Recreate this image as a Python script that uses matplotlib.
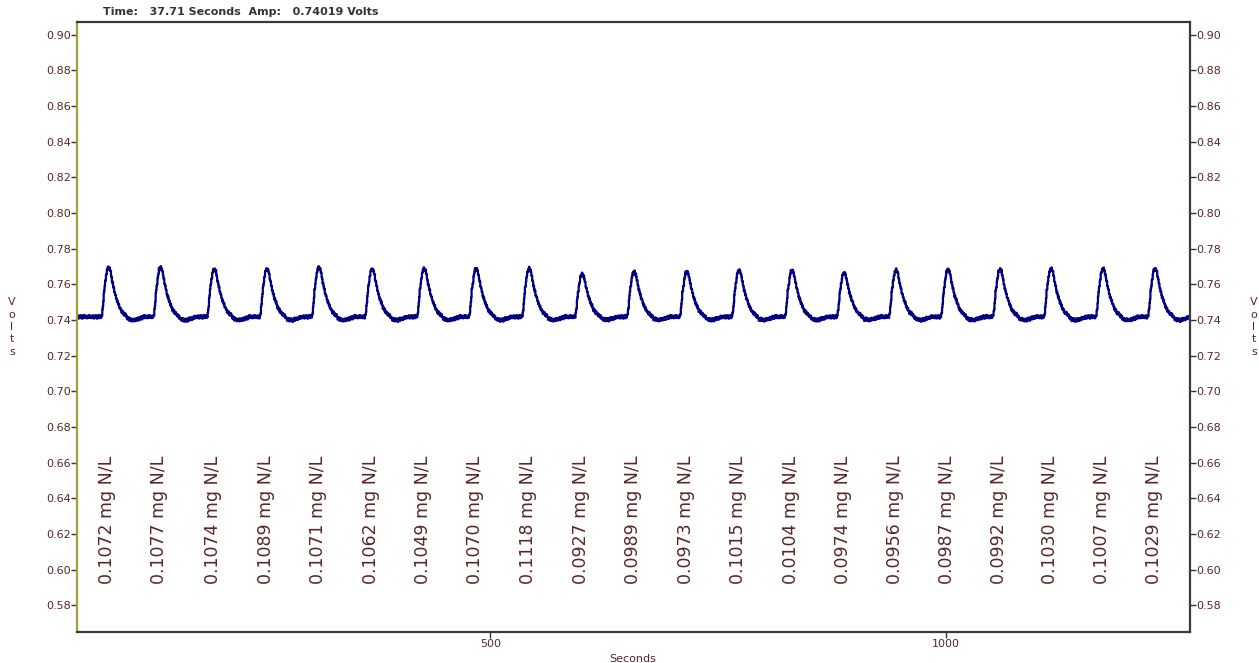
import numpy as np
import matplotlib
matplotlib.use("Agg")
import matplotlib.pyplot as plt

# Peak apex times (s) and apex amplitudes (V) of the injections
peak_times = [81.5, 138.5, 197.4, 255.2, 312.2, 370.6, 427.6, 484.6, 542.8, 600.9,
              657.9, 715.7, 773.0, 831.1, 888.2, 945.2, 1002.2, 1059.2, 1115.2,
              1172.2, 1229.2]
peak_heights = [0.7697, 0.7697, 0.7687, 0.7688, 0.7697, 0.7687, 0.7690, 0.7690,
                0.7690, 0.7659, 0.7672, 0.7672, 0.7680, 0.7680, 0.7665, 0.7680,
                0.7685, 0.7685, 0.7690, 0.7690, 0.7690]
baseline = 0.7418

# Concentration reported for each peak
concentrations = [0.1072, 0.1077, 0.1074, 0.1089, 0.1071, 0.1062, 0.1049, 0.1070,
                  0.1118, 0.0927, 0.0989, 0.0973, 0.1015, 0.0104, 0.0974, 0.0956,
                  0.0987, 0.0992, 0.1030, 0.1007, 0.1029]

# Normalised peak profile (time relative to apex, fraction of peak amplitude)
profile_t = [-8.0, -7.3, -6.2, -4.8, -1.8, 0.0, 1.8, 3.7, 5.5, 7.3, 9.1, 12.0,
             14.6, 18.3, 22.0, 27.8, 33.0, 39.0, 50.0]
profile_f = [0.0, 0.04, 0.21, 0.54, 0.945, 1.0, 0.945, 0.74, 0.58, 0.44, 0.34,
             0.19, 0.10, 0.04, -0.05, -0.07, -0.04, 0.0, 0.0]

# Detector ripple on the baseline (mV), repeated along the record
ripple_mv = [0.4, -0.6, 0.8, -0.2, -1.0, 0.5, 0.1, -0.7, 0.9, -0.3, 0.2, -1.1,
             0.6, 0.0, -0.5, 1.0, -0.8, 0.3, -0.1, 0.7, -0.6, 0.2, -0.9, 0.5,
             0.0, -0.4, 0.9, -0.7, 0.1, 0.6, -0.2, 0.5, -0.8]

x_min, x_max = 46.8, 1267.5
y_min, y_max = 0.5650, 0.9071
y_ticks = [0.58, 0.60, 0.62, 0.64, 0.66, 0.68, 0.70, 0.72, 0.74, 0.76, 0.78,
           0.80, 0.82, 0.84, 0.86, 0.88, 0.90]
x_ticks = [500, 1000]

# Build the detector record
t = np.arange(x_min, x_max + 0.5, 0.5)
signal = np.full_like(t, baseline)
for tp, hp in zip(peak_times, peak_heights):
    signal += (hp - baseline) * np.interp(t - tp, profile_t, profile_f,
                                          left=0.0, right=0.0)
ripple = np.resize(np.array(ripple_mv) / 1000.0, t.size)
signal += ripple

text_col = "#5a2626"
trace_col = "#000080"

fig = plt.figure(figsize=(12.59, 6.63), dpi=100)
ax = fig.add_axes([77 / 1259, 1 - 632 / 663, (1190 - 77) / 1259, (632 - 22) / 663])

ax.plot(t, signal, color=trace_col, lw=1.6, drawstyle="steps-mid")

for tp, c in zip(peak_times, concentrations):
    ax.text(tp - 1.5, 0.5919, f"{c:.4f} mg N/L", rotation=90, ha="center",
            va="bottom", color=text_col, fontsize=12.5, family="DejaVu Sans")

ax.set_xlim(x_min, x_max)
ax.set_ylim(y_min, y_max)
ax.set_yticks(y_ticks)
ax.set_yticklabels([f"{v:.2f}" for v in y_ticks])
ax.set_xticks(x_ticks)
ax.set_xticklabels([str(v) for v in x_ticks])

ax.tick_params(axis="y", which="both", left=True, right=True, labelleft=True,
               labelright=True, direction="out", length=4, width=1,
               color="#333333", labelsize=8, labelcolor=text_col, pad=0.5)
ax.tick_params(axis="x", direction="out", length=4, width=1, color="#333333",
               labelsize=8, labelcolor=text_col, pad=1)

for side in ["top", "right", "bottom"]:
    ax.spines[side].set_color("#3a3a3a")
    ax.spines[side].set_linewidth(1.6)
ax.spines["left"].set_color("#9fa03c")
ax.spines["left"].set_linewidth(1.6)

fig.text(103 / 1259, 1 - 12 / 663, "Time:   37.71 Seconds  Amp:   0.74019 Volts",
         fontsize=8, color="#333333", va="center", ha="left", fontweight="bold")
fig.text(633 / 1259, 1 - 659 / 663, "Seconds", fontsize=8, color=text_col,
         ha="center", va="center")

for xpos in (12, 1254):
    fig.text(xpos / 1259, 1 - 327 / 663, "V\no\nl\nt\ns", fontsize=8,
             color=text_col, ha="center", va="center", linespacing=1.3)

fig.savefig("out.png", dpi=100)
